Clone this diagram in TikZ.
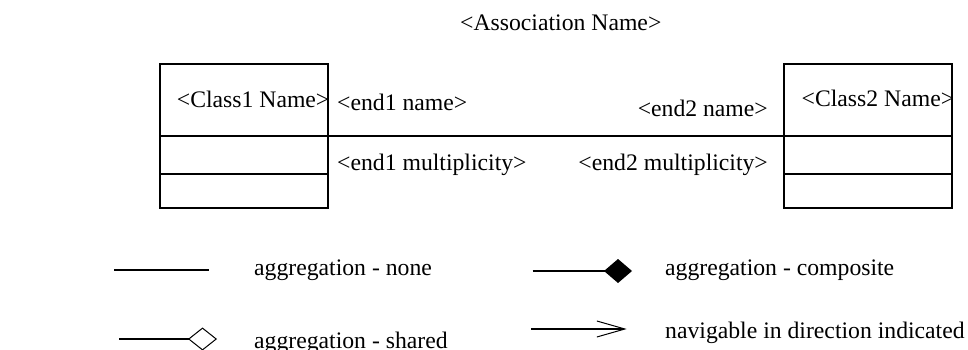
\documentclass[tikz,border=0pt]{standalone}
\usepackage{fontspec}
\setmainfont{Liberation Serif}
\usetikzlibrary{arrows.meta}

\begin{document}
\begin{tikzpicture}
[x=1pt,y=-1pt,
  lineDecorate/.style={-,line width=1.6pt},%
  classDecorate/.style={shape=rectangle,draw,line width=1.6pt,inner sep=0pt,
    minimum width=167.7pt,minimum height=143.7pt},%
  textDecorate/.style={inner sep=0pt,font=\fontsize{23.7}{28}\selectfont}]
\useasboundingbox (0,0) rectangle (968,349);
%% classes
\node (c1) at (243.85,135.85) [classDecorate] {};
\node (c2) at (867.85,135.85) [classDecorate] {};
\foreach \cname in {c1, c2}
{
  \draw[lineDecorate] (\cname.west) -- (\cname.east);
  \draw[lineDecorate] ([yshift=-38pt]\cname.west) -- ([yshift=-38pt]\cname.east);
}
\node (n1) at (176.7,107.5) [textDecorate,anchor=base west] {\textless Class1 Name\textgreater};
\node (n2) at (801.5,106) [textDecorate,anchor=base west] {\textless Class2 Name\textgreater};
%% association and its ends
\draw[lineDecorate] (c1.east) -- (c2.west);
\node (an) at (460,30.5) [textDecorate,anchor=base west] {\textless Association Name\textgreater};
\node (e1) at (337,110.5) [textDecorate,anchor=base west] {\textless end1 name\textgreater};
\node (m1) at (337,170.5) [textDecorate,anchor=base west] {\textless end1 multiplicity\textgreater};
\node (e2) at (768,116.5) [textDecorate,anchor=base east] {\textless end2 name\textgreater};
\node (m2) at (768,170.5) [textDecorate,anchor=base east] {\textless end2 multiplicity\textgreater};
%% legend
\foreach \lname/\x/\y/\ltext in {
  none/254/275/aggregation - none, shared/254/348/aggregation - shared,
  composite/665/275.5/aggregation - composite, navigable/665/338.5/navigable in direction indicated}
{
  \node (t\lname) at (\x,\y) [textDecorate,anchor=base west] {\ltext};
}
\coordinate (a1) at (114,270);
\coordinate (b1) at (209,270);
\coordinate (a2) at (119,339);
\coordinate (b2) at (217,339);
\coordinate (a3) at (532.7,271);
\coordinate (b3) at (632,271);
\coordinate (a4) at (531,329);
\coordinate (b4) at (626.7,329);
\draw[lineDecorate] (a1) -- (b1);
\draw[lineDecorate,-{Diamond[open,length=29pt,width=23pt,line width=1pt]}] (a2) -- (b2);
\draw[lineDecorate,-{Diamond[length=28pt,width=24pt]}] (a3) -- (b3);
\draw[lineDecorate,-{Straight Barb[length=28pt,width=16pt,line width=1pt]}] (a4) -- (b4);
\end{tikzpicture}
\end{document}
